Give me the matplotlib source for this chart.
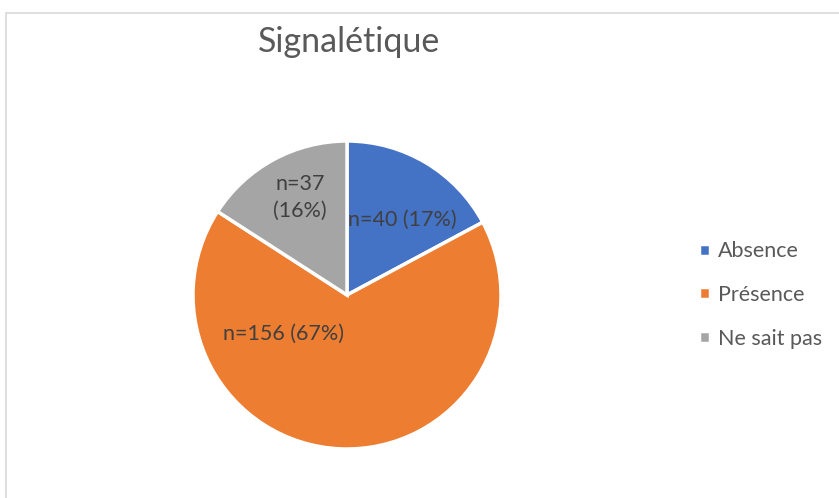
import numpy as np
import matplotlib
matplotlib.use("Agg")
import matplotlib.pyplot as plt
from matplotlib.patches import Rectangle

plt.rcParams['font.family'] = ['Lato', 'DejaVu Sans']

categories = ['Absence', 'Présence', 'Ne sait pas']
counts = [40, 156, 37]
percents = [17, 67, 16]
colors = ['#4472C4', '#ED7D31', '#A5A5A5']

fig = plt.figure(figsize=(8.39, 4.98), dpi=100)

# light frame like the Excel chart area
fig.patches.append(Rectangle((5.5 / 839, -0.1), 1.2, (498 - 13) / 498 + 0.1,
                             transform=fig.transFigure, fill=False,
                             edgecolor='#D9D9D9', linewidth=1.2))

ax = fig.add_axes([(347 - 154) / 839, (498 - 295 - 154) / 498, 308 / 839, 308 / 498])
wedges, _ = ax.pie(counts, colors=colors, startangle=90, counterclock=False,
                   wedgeprops=dict(edgecolor='white', linewidth=2.5))
ax.set_xlim(-1, 1)
ax.set_ylim(-1, 1)
ax.set_aspect('equal')

# data labels (Excel "best fit" positions)
label_pos = [(0.36, 0.49), (-0.41, -0.25), (-0.305, 0.635)]
for (x, y), n, p in zip(label_pos, counts, percents):
    txt = f"n={n} ({p}%)" if n != 37 else f"n={n}\n({p}%)"
    ax.text(x, y, txt, ha='center', va='center', fontsize=15.5, color='#404040',
            linespacing=1.45)

fig.text(349 / 839, 1 - 42 / 498, 'Signalétique', ha='center', va='center',
         fontsize=24.5, color='#595959')

fig.legend(wedges, categories, loc='center left',
           bbox_to_anchor=(680 / 839, 1 - 295 / 498), frameon=False,
           fontsize=15.5, labelcolor='#595959', handlelength=0.5, handleheight=0.5,
           handletextpad=0.35, labelspacing=1.1)

fig.savefig('out.png', dpi=100)
